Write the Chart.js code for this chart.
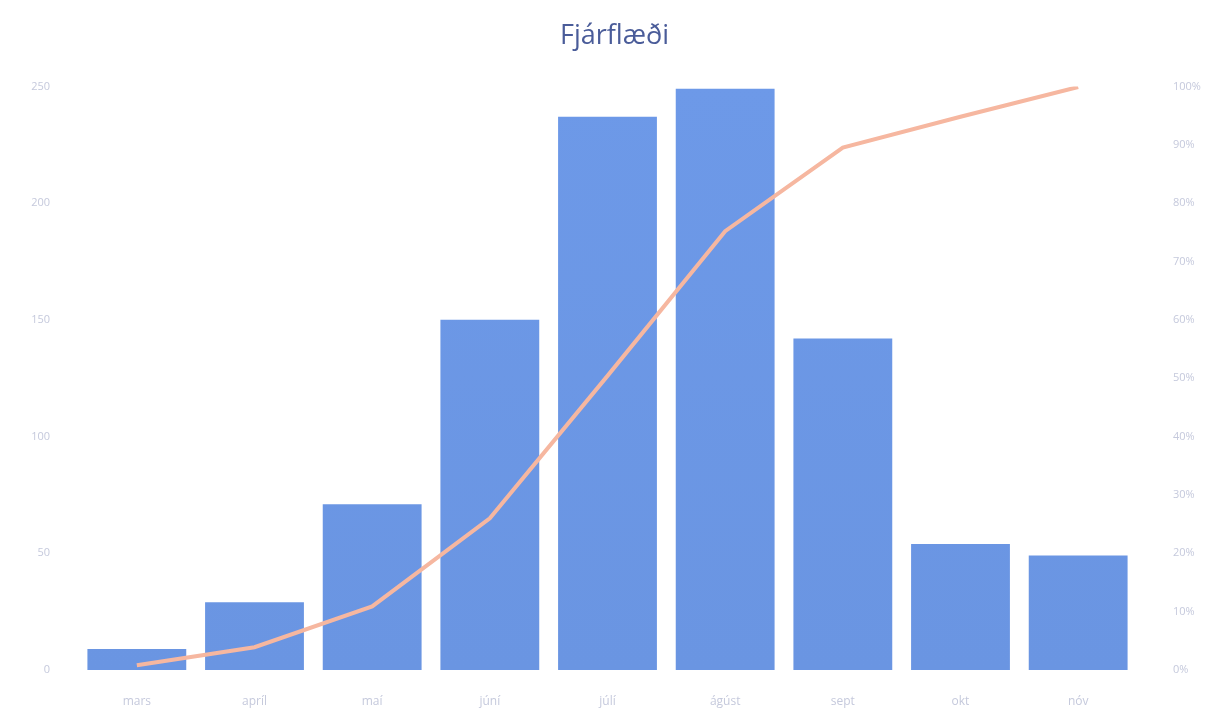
<!DOCTYPE html>
<html>
<head>
<meta charset="utf-8">
<script src="https://cdn.jsdelivr.net/npm/chart.js@4"></script>
<style>
  html, body { margin: 0; padding: 0; background: #fff; }
  #wrap { width: 1229px; height: 717px; }
</style>
</head>
<body>
<div id="wrap"><canvas id="myChart"></canvas></div>
<script>
  // manuðir
  const labels = ['mars', 'apríl', 'maí', 'júní', 'júlí', 'ágúst', 'sept', 'okt', 'nóv'];
  // fjöldi á mánuði (lesið af mynd)
  const fjoldi = [9, 29, 71, 150, 237, 249, 142, 54, 49];
  // uppsafnað hlutfall %
  const uppsafnad = [0.8, 3.9, 10.9, 26, 50.4, 75.2, 89.5, 94.8, 99.9];

  const leftTicks = [0, 50, 100, 150, 200, 250];

  const tickColor = '#c5c9dc';

  function plotChart() {
    const ctx = document.getElementById('myChart').getContext('2d');

    const grad = ctx.createLinearGradient(0, 80, 0, 670);
    grad.addColorStop(0, '#6d99e8');
    grad.addColorStop(1, '#6a95e2');

    new Chart(ctx, {
      data: {
        labels: labels,
        datasets: [
          {
            label: 'Uppsafnað',
            type: 'line',
            data: uppsafnad,
            borderColor: '#f6b7a0',
            borderWidth: 4,
            pointRadius: 0,
            tension: 0,
            fill: false,
            yAxisID: 'y1',
            order: 0
          },
          {
            label: 'Fjöldi',
            type: 'bar',
            data: fjoldi,
            backgroundColor: grad,
            categoryPercentage: 1,
            barPercentage: 0.84,
            yAxisID: 'y',
            order: 1
          }
        ]
      },
      options: {
        responsive: true,
        maintainAspectRatio: false,
        animation: false,
        layout: { padding: { left: 0, right: 0, top: 20, bottom: 4 } },
        plugins: {
          legend: { display: false },
          tooltip: { enabled: false },
          title: {
            display: true,
            text: 'Fjárflæði',
            color: '#4a5c99',
            font: { family: 'Open Sans', size: 27, weight: 'normal' },
            padding: { top: 0, bottom: 34 }
          }
        },
        scales: {
          x: {
            grid: { display: false, drawBorder: false },
            border: { display: false },
            afterFit: function(axis) { axis.height = 43; },
            ticks: { color: tickColor, font: { family: 'Open Sans', size: 12 }, padding: 16 }
          },
          y: {
            position: 'left',
            min: 0,
            max: 250,
            afterBuildTicks: function(axis) {
              axis.ticks = leftTicks.map(v => ({ value: v }));
            },
            afterFit: function(axis) { axis.width = 78; },
            grid: { display: false },
            border: { display: false },
            ticks: { color: tickColor, font: { family: 'Open Sans', size: 11 }, padding: 20 }
          },
          y1: {
            position: 'right',
            min: 0,
            max: 100,
            afterFit: function(axis) { axis.width = 92; },
            grid: { display: false, drawOnChartArea: false },
            border: { display: false },
            ticks: {
              stepSize: 10,
              color: tickColor,
              font: { family: 'Open Sans', size: 11 },
              padding: 28,
              callback: function(value) { return value + '%'; }
            }
          }
        }
      }
    });
  }

  window.addEventListener('DOMContentLoaded', plotChart);
</script>
</body>
</html>
